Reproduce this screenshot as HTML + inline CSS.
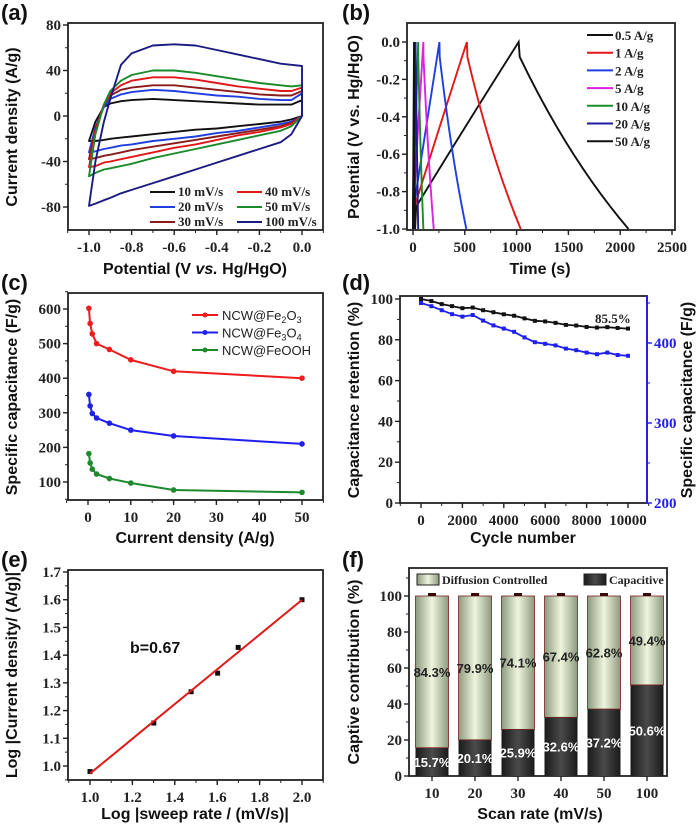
<!DOCTYPE html>
<html><head><meta charset="utf-8"><style>
html,body{margin:0;padding:0;background:#fff;}
svg{display:block;}
.tk{font-family:"Liberation Serif",serif;font-weight:bold;font-size:15px;fill:#222;}
.ti{font-family:"Liberation Sans",sans-serif;font-weight:bold;font-size:16px;fill:#111;}
.pl{font-family:"Liberation Sans",sans-serif;font-weight:bold;font-size:22px;fill:#111;}
.lg{font-family:"Liberation Serif",serif;font-weight:bold;font-size:13px;fill:#222;}
.lgf{font-family:"Liberation Serif",serif;font-weight:bold;font-size:12px;fill:#222;}
.lgs{font-family:"Liberation Sans",sans-serif;font-size:13px;fill:#222;}
</style></head><body>
<svg id="fig" width="700" height="827" viewBox="0 0 700 827" xmlns="http://www.w3.org/2000/svg">
<defs>
<linearGradient id="gLight" x1="0" x2="1" y1="0" y2="0"><stop offset="0" stop-color="#8d9a7e"/><stop offset="0.5" stop-color="#eef6dd"/><stop offset="1" stop-color="#8d9a7e"/></linearGradient>
<linearGradient id="gDark" x1="0" x2="1" y1="0" y2="0"><stop offset="0" stop-color="#1a1a1a"/><stop offset="0.5" stop-color="#4a4a4a"/><stop offset="1" stop-color="#1a1a1a"/></linearGradient>
</defs>
</svg>
<script>
// ---------- data ----------
const cvPotential=[-1,-0.97,-0.93,-0.9,-0.85,-0.8,-0.7,-0.6,-0.5,-0.4,-0.3,-0.2,-0.1,-0.05,0];
const cvLabels=['10 mV/s','20 mV/s','30 mV/s','40 mV/s','50 mV/s','100 mV/s'];
const cvUp10=[-22,-5,8,11,13,14,15,14,13,12,11,10,10,10,14];
const cvLo10=[-22,-22,-21,-20,-19,-18,-16,-14,-12,-11,-9,-7,-5,-3,0];
const cvUp20=[-32,-10,8,15,19,21,23,22,20,18,17,15,14,14,20];
const cvLo20=[-32,-31,-29,-28,-26,-25,-22,-20,-18,-15,-13,-10,-7,-5,0];
const cvUp30=[-38,-12,10,18,23,25,27,27,25,23,21,19,18,18,22];
const cvLo30=[-38,-37,-35,-34,-32,-30,-27,-24,-21,-18,-15,-12,-9,-6,0];
const cvUp40=[-45,-14,10,20,27,31,34,34,32,29,26,24,22,22,25];
const cvLo40=[-45,-44,-41,-40,-38,-36,-32,-28,-25,-21,-17,-14,-10,-7,0];
const cvUp50=[-53,-16,10,22,31,36,40,40,38,35,32,29,27,26,27];
const cvLo50=[-53,-50,-47,-46,-44,-42,-37,-33,-29,-25,-21,-17,-13,-9,0];
const cvUp100=[-79,-40,-5,15,45,55,62,63,62,58,54,50,46,45,44];
const cvLo100=[-79,-77,-74,-72,-68,-65,-59,-53,-47,-41,-35,-29,-23,-16,0];
const cvXTicks=[-1.0,-0.8,-0.6,-0.4,-0.2,0.0];
const cvYTicks=[80,40,0,-40,-80];

const gcdLabels=['0.5 A/g','1 A/g','2 A/g','5 A/g','10 A/g','20 A/g','50 A/g'];
const gcdPeak=[1020,520,255,100,50,25,10];
const gcdEnd=[2080,1040,515,200,100,50,20];
const gcdXTicks=[0,500,1000,1500,2000,2500];
const gcdYTicks=[0.0,-0.2,-0.4,-0.6,-0.8,-1.0];

const rateCurrent=[0.2,0.5,1,2,5,10,20,50];
const rateFe2O3=[602,558,528,500,483,453,420,400];
const rateFe3O4=[353,320,298,285,270,250,233,210];
const rateFeOOH=[182,155,137,123,110,97,77,70];
const rateXTicks=[0,10,20,30,40,50];
const rateYTicks=[100,200,300,400,500,600];

const cycNumber=[0,500,1000,1500,2000,2500,3000,3500,4000,4500,5000,5500,6000,6500,7000,7500,8000,8500,9000,9500,10000];
const cycRetention=[100,99,97.5,96.5,95.5,95.8,94.5,93.5,92.5,91.8,90.5,89.3,89,88.3,87.3,87,86.3,86,86.2,85.8,85.5];
const cycCapacitance=[450,446,441,436,433,435,428,422,418,414,407,401,399,397,393,391,388,386,388,385,384];
const cycXTicks=[0,2000,4000,6000,8000,10000];
const cycYTicks=[0,20,40,60,80,100];
const cycY2Ticks=[200,300,400];

const logRate=[1,1.301,1.477,1.602,1.699,2];
const logCurrent=[0.98,1.155,1.268,1.335,1.428,1.6];
const logXTicks=[1.0,1.2,1.4,1.6,1.8,2.0];
const logYTicks=[1.0,1.1,1.2,1.3,1.4,1.5,1.6,1.7];

const scanRates=['10','20','30','40','50','100'];
const capacitivePct=[15.7,20.1,25.9,32.6,37.2,50.6];
const diffusionPct=[84.3,79.9,74.1,67.4,62.8,49.4];
const barYTicks=[0,20,40,60,80,100];

// ---------- helpers ----------
const svg=document.getElementById('fig');
const NS='http://www.w3.org/2000/svg';
function E(tag,attrs,parent){const el=document.createElementNS(NS,tag);for(const k in attrs)el.setAttribute(k,attrs[k]);(parent||svg).appendChild(el);return el;}
function T(txt,attrs,parent){const el=E('text',attrs,parent);el.textContent=txt;return el;}
function fmt(v,d){return v.toFixed(d);}
function polyline(pts){return pts.map(p=>p[0].toFixed(1)+','+p[1].toFixed(1)).join(' ');}

function panel(name){const g=E('g',{});return g;}
function frame(g,x0,y0,x1,y1){
  const r=E('rect',{x:x0,y:y0,width:x1-x0,height:y1-y0,fill:'none',stroke:'#222','stroke-width':1.8},g);
  
  
}
function xTicks(g,vals,sx,yb,dec,minorStep,lo,hi){
  for(const v of vals){
    const t=E('line',{x1:sx(v),x2:sx(v),y1:yb,y2:yb+5,stroke:'#222','stroke-width':1.4},g);
    
    
    const l=T(typeof v==='string'?v:fmt(v,dec),{x:sx(v),y:yb+22,'text-anchor':'middle',class:'tk'},g);
    
    
  }
  if(minorStep){for(let v=lo;v<=hi+1e-9;v+=minorStep){E('line',{x1:sx(v),x2:sx(v),y1:yb,y2:yb+3,stroke:'#222','stroke-width':1},g);}}
}
function yTicks(g,vals,sy,xl,dec,minorStep,lo,hi,color,right){
  const c=color||'#222';const dir=right?1:-1;
  for(const v of vals){
    const t=E('line',{x1:xl,x2:xl+dir*5,y1:sy(v),y2:sy(v),stroke:c,'stroke-width':1.4},g);
    
    
    const l=T(fmt(v,dec),{x:xl+dir*7,y:sy(v)+5,'text-anchor':right?'start':'end',class:'tk'},g);
    
    
    if(color)l.style.fill=color;
  }
  if(minorStep){for(let v=lo;v<=hi+1e-9;v+=minorStep){E('line',{x1:xl,x2:xl+dir*3,y1:sy(v),y2:sy(v),stroke:c,'stroke-width':1},g);}}
}
function xTitle(g,txt,x,y){const t=T(txt,{x:x,y:y,'text-anchor':'middle',class:'ti'},g);return t;}
function yTitle(g,txt,x,y){const t=T(txt,{x:x,y:y,'text-anchor':'middle',class:'ti',transform:'rotate(-90 '+x+' '+y+')'},g);return t;}
function pLabel(g,txt,x,y){const t=T(txt,{x:x,y:y,class:'pl'},g);}

// ---------- (a) CV ----------
{
const g=panel('panel-a-cv');
const ax=v=>89+(v+1)*213, ay=v=>116-v*182/160;
pLabel(g,'(a)',1,20);
frame(g,68,23,323,230);
xTicks(g,cvXTicks,ax,230,1,0.1,-1.1,0.1);
yTicks(g,cvYTicks,ay,68,0,20,-80,80);
const cvUp=[cvUp10,cvUp20,cvUp30,cvUp40,cvUp50,cvUp100];
const cvLo=[cvLo10,cvLo20,cvLo30,cvLo40,cvLo50,cvLo100];
const cols=['#111','#1f3fe0','#8b1a1a','#e01818','#1a8a2a','#1c1c80'];
cvUp.forEach((up,i)=>{
  const pts=cvPotential.map((p,k)=>[ax(p),ay(up[k])]);
  for(let k=cvPotential.length-1;k>=0;k--)pts.push([ax(cvPotential[k]),ay(cvLo[i][k])]);
  const pl=E('polygon',{points:polyline(pts),fill:'none',stroke:cols[i],'stroke-width':1.9,'stroke-linejoin':'round'},g);
  
  
});
cvLabels.forEach((lab,i)=>{
  const col=i<3?0:1,row=i%3;
  const x=col?237:150,y=192+row*15;
  const l=E('line',{x1:x,x2:x+25,y1:y,y2:y,stroke:cols[i],'stroke-width':2},g);
  
  
  const t=T(lab,{x:x+28,y:y+4,class:'lg'},g);
  
  
});
const xt=T('',{x:195,y:274,'text-anchor':'middle',class:'ti'},g);


xt.innerHTML='Potential (V <tspan font-style="italic">vs.</tspan> Hg/HgO)';
yTitle(g,'Current density (A/g)',17,127);
}

// ---------- (b) GCD ----------
{
const g=panel('panel-b-gcd');
const bx=v=>413+v*259/2500, by=v=>42-v*187;
pLabel(g,'(b)',342,20);
frame(g,407,23,675,230);
xTicks(g,gcdXTicks,bx,230,0,250,0,2500);
yTicks(g,gcdYTicks,by,407,1,0.1,-1.0,0.0);
const cols=['#111','#e01818','#1f3fe0','#e020e0','#1a8a2a','#1c1c9a','#111'];
gcdLabels.forEach((lab,i)=>{
  const tp=gcdPeak[i],te=gcdEnd[i];
  const d='M'+bx(tp*0.02)+','+by(-1)+' L'+bx(tp*0.03)+','+by(-0.88)+' Q'+bx(tp*0.55)+','+by(-0.4)+' '+bx(tp)+','+by(0)+' L'+bx(tp*1.01)+','+by(-0.08)+' Q'+bx(tp+(te-tp)*0.45)+','+by(-0.62)+' '+bx(te)+','+by(-1);
  const p=E('path',{d:d,fill:'none',stroke:cols[i],'stroke-width':1.9},g);
  
  
  const y=35+i*17.7;
  const l=E('line',{x1:587,x2:613,y1:y,y2:y,stroke:cols[i],'stroke-width':2},g);
  
  
  const t=T(lab,{x:615,y:y+5,class:'lg'},g);
  
  
});
xTitle(g,'Time (s)',540,274);
yTitle(g,'Potential (V vs. Hg/HgO)',359,127);
}

// ---------- (c) rate ----------
{
const g=panel('panel-c-rate');
const cx=v=>88+v*4.28, cy=v=>482-(v-100)*0.346;
pLabel(g,'(c)',1,290);
frame(g,68,293,323,500);
xTicks(g,rateXTicks,cx,500,0,5,-5,55);
yTicks(g,rateYTicks,cy,68,0,50,50,650);
const series=[rateFe2O3,rateFe3O4,rateFeOOH];
const cols=['#ee1c1c','#1f1fee','#1e8a2e'];
const names=['fe2o3','fe3o4','feooh'];
series.forEach((s,i)=>{
  const pts=rateCurrent.map((c,k)=>[cx(c),cy(s[k])]);
  const pl=E('polyline',{points:polyline(pts),fill:'none',stroke:cols[i],'stroke-width':2},g);
  
  
  pts.forEach(p=>{
    const m=E('circle',{cx:p[0],cy:p[1],r:2.8,fill:cols[i]},g);
    
    
  });
});
const leg=[['NCW@Fe','2','O','3'],['NCW@Fe','3','O','4'],['NCW@FeOOH']];
leg.forEach((L,i)=>{
  const y=315+i*17.5;
  const l=E('line',{x1:192,x2:218,y1:y,y2:y,stroke:cols[i],'stroke-width':2},g);
  
  
  E('circle',{cx:205,cy:y,r:2.5,fill:cols[i]},g);
  const t=T('',{x:222,y:y+5,class:'lgs'},g);
  
  
  t.innerHTML=L.length>1?L[0]+'<tspan font-size="9" dy="3">'+L[1]+'</tspan><tspan dy="-3">'+L[2]+'</tspan><tspan font-size="9" dy="3">'+L[3]+'</tspan>':L[0];
});
xTitle(g,'Current density (A/g)',195,543);
yTitle(g,'Specific capacitance (F/g)',17,397);
}

// ---------- (d) cycling ----------
{
const g=panel('panel-d-cycling');
const dx=v=>421+v*0.0207, dy=v=>503-v*2.04, dy2=v=>503-(v-200)*0.8;
pLabel(g,'(d)',342,290);
frame(g,400,296,647,503);
const ra=E('line',{x1:647,x2:647,y1:296,y2:503,stroke:'#1f1fee','stroke-width':2},g);


xTicks(g,cycXTicks,dx,503,0,1000,-1000,11000);
yTicks(g,cycYTicks,dy,400,0,10,0,100);
yTicks(g,cycY2Ticks,dy2,647,0,50,200,450,'#1f1fee',true);
const p1=E('polyline',{points:polyline(cycNumber.map((c,k)=>[dx(c),dy(cycRetention[k])])),fill:'none',stroke:'#111','stroke-width':1.8},g);


const p2=E('polyline',{points:polyline(cycNumber.map((c,k)=>[dx(c),dy2(cycCapacitance[k])])),fill:'none',stroke:'#1f1fee','stroke-width':1.8},g);


cycNumber.forEach((c,k)=>{
  const a=E('rect',{x:dx(c)-2,y:dy(cycRetention[k])-2,width:4,height:4,fill:'#111'},g);
  
  
  const b=E('rect',{x:dx(c)-2,y:dy2(cycCapacitance[k])-2,width:4,height:4,fill:'#1f1fee'},g);
  
  
});
const an=T('85.5%',{x:595,y:323,class:'lg'},g);


xTitle(g,'Cycle number',523,543);
yTitle(g,'Capacitance retention (%)',359,400);
yTitle(g,'Specific capacitance (F/g)',692,400);
}

// ---------- (e) b-value ----------
{
const g=panel('panel-e-bvalue');
const ex=v=>90+(v-1)*212, ey=v=>766-(v-1)*194/0.7;
pLabel(g,'(e)',1,567);
frame(g,68,570,323,780);
xTicks(g,logXTicks,ex,780,1,0.1,0.9,2.1);
yTicks(g,logYTicks,ey,68,1,0.05,0.95,1.7);
const n=logRate.length,mx=logRate.reduce((a,b)=>a+b)/n,my=logCurrent.reduce((a,b)=>a+b)/n;
let sxy=0,sxx=0;logRate.forEach((x,k)=>{sxy+=(x-mx)*(logCurrent[k]-my);sxx+=(x-mx)*(x-mx);});
const slope=sxy/sxx,icp=my-slope*mx;
logRate.forEach((x,k)=>{
  const m=E('rect',{x:ex(x)-2.5,y:ey(logCurrent[k])-2.5,width:5,height:5,fill:'#111'},g);
  
  
});
const fl=E('line',{x1:ex(1),y1:ey(icp+slope*1),x2:ex(2),y2:ey(icp+slope*2),stroke:'#e01818','stroke-width':2},g);


const bt=T('b=0.67',{x:130,y:653,class:'ti'},g);


xTitle(g,'Log |sweep rate / (mV/s)|',195,819);
yTitle(g,'Log |Current density/ (A/g)|',17,675);
}

// ---------- (f) contribution bars ----------
{
const g=panel('panel-f-contribution');
const fx=i=>432+i*43, fy=v=>776-v*1.8, bw=33;
pLabel(g,'(f)',342,567);
frame(g,409,568,667,776);
xTicks(g,scanRates,(s)=>fx(scanRates.indexOf(s)),776,0);
yTicks(g,barYTicks,fy,409,0,10,0,110);
scanRates.forEach((s,i)=>{
  const c=capacitivePct[i],d=diffusionPct[i];
  const r1=E('rect',{x:fx(i)-bw/2,y:fy(c),width:bw,height:fy(0)-fy(c),fill:'url(#gDark)'},g);
  
  
  const r2=E('rect',{x:fx(i)-bw/2,y:fy(c+d),width:bw,height:fy(c)-fy(c+d),fill:'url(#gLight)',stroke:'#7a2020','stroke-width':0.8},g);
  
  
  E('rect',{x:fx(i)-4,y:fy(c+d)-3,width:8,height:3,fill:'#3a0a0a'},g);
  const t1=T(c.toFixed(1)+'%',{x:fx(i),y:fy(c/2)+5,'text-anchor':'middle',class:'lgs'},g);
  t1.style.fill='#fff';t1.style.fontWeight='bold';
  
  
  const t2=T(d.toFixed(1)+'%',{x:fx(i),y:fy(c+d/2)+5,'text-anchor':'middle',class:'lgs'},g);
  t2.style.fontWeight='bold';
  
  
});
const s1=E('rect',{x:417,y:574,width:22,height:11,fill:'url(#gLight)',stroke:'#222'},g);


const l1=T('Diffusion Controlled',{x:442,y:584,class:'lgf'},g);


const s2=E('rect',{x:584,y:574,width:22,height:11,fill:'url(#gDark)',stroke:'#222'},g);


const l2=T('Capacitive',{x:609,y:584,class:'lgf'},g);


xTitle(g,'Scan rate (mV/s)',540,819);
yTitle(g,'Captive contribution (%)',359,672);
}
</script>
</body></html>
